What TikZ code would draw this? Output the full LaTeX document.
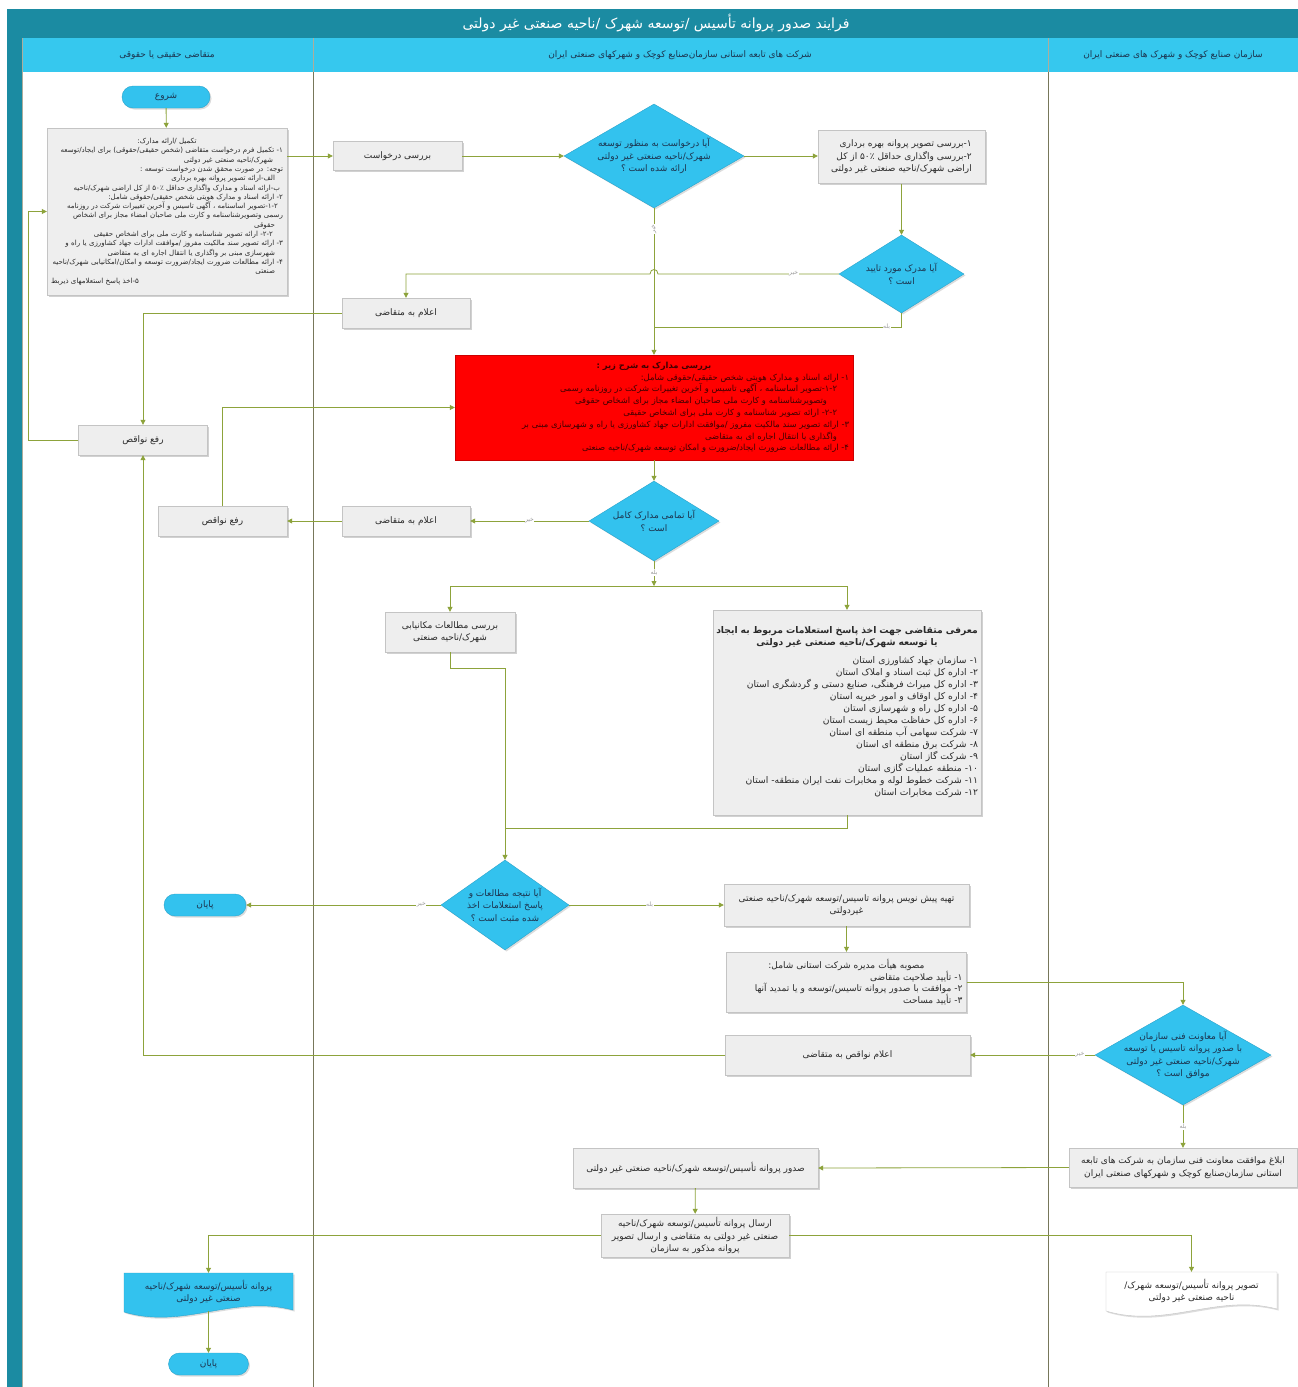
\documentclass[tikz,border=0pt]{standalone}
\usepackage{fontspec}
\setmainfont{DejaVu Sans}
\newfontfamily\fa[Script=Arabic]{DejaVu Sans}
\TeXXeTstate=1
\usetikzlibrary{shapes.geometric,shadows,arrows.meta}
\newcommand{\rtxt}[1]{\mbox{\beginR #1\endR}}
\newcommand{\rtxtc}[1]{\makebox[\hsize]{\beginR #1\endR}}
\newcommand{\rtxtl}[1]{\makebox[\hsize][l]{\beginR #1\endR}}
\definecolor{teal1}{HTML}{1B8BA2}
\definecolor{headc}{HTML}{36C8EE}
\definecolor{cyanf}{HTML}{33C2EE}
\definecolor{cyand}{HTML}{2BA3CB}
\definecolor{boxf}{HTML}{EEEEEE}
\definecolor{boxd}{HTML}{C4C4C4}
\definecolor{lnc}{HTML}{8DA33B}
\definecolor{lanec}{HTML}{77775A}
\definecolor{txtg}{HTML}{2A2A2A}
\definecolor{txtd}{HTML}{1C3550}
\begin{document}
\begin{tikzpicture}[x=1pt,y=-1pt,
 gbox/.style={draw=boxd, fill=boxf, drop shadow={shadow xshift=1.5pt,shadow yshift=-1.5pt,opacity=0.4,fill=black!45}, font=\fa\fontsize{9}{12.5}\selectfont, align=center, text=txtg, inner sep=2pt},
 decis/.style={diamond, draw=cyand, fill=cyanf, inner sep=0pt, drop shadow={shadow xshift=1.5pt,shadow yshift=-1.5pt,opacity=0.3,fill=black!45}},
 dtext/.style={font=\fa\fontsize{9}{12.5}\selectfont, align=center, text=txtd},
 termnode/.style={draw=cyand, fill=cyanf, rounded corners=11pt, minimum height=22pt, font=\fa\fontsize{9}{10}\selectfont, text=txtd, drop shadow={shadow xshift=1.5pt,shadow yshift=-1.5pt,opacity=0.3,fill=black!45}},
 conn/.style={draw=lnc, line width=0.8pt, -{Triangle[length=5pt,width=5pt]}},
 plain/.style={draw=lnc, line width=0.8pt},
 yn/.style={font=\fa\fontsize{6}{6}\selectfont, text=black!40, fill=white, inner sep=0.5pt},
 headtxt/.style={font=\fa\fontsize{9}{10}\selectfont, text=txtd}
]
\useasboundingbox (0,0) rectangle (1298,1387);
\fill[white] (0,0) rectangle (1298,1387);
% title and lanes
\fill[teal1] (7,9) rectangle (1298,38);
\fill[teal1] (7,38) rectangle (22,1387);
\fill[headc] (22,38) rectangle (1298,72);
\draw[white, line width=0.8pt] (22,72) -- (1298,72);
\draw[lanec!60, line width=0.6pt] (313,38) -- (313,72) (1048,38) -- (1048,72);
\draw[lanec, line width=0.7pt] (313,72) -- (313,1387) (1048,72) -- (1048,1387);
\draw[lanec!60, line width=0.5pt] (22,38) -- (22,1387);
\node[font=\fa\fontsize{14}{16}\selectfont, text=white] (title) at (656,23) {\rtxt{فرایند صدور پروانه تأسیس /توسعه شهرک /ناحیه صنعتی غیر دولتی}};
\node[headtxt] (h1) at (167,55) {\rtxt{متقاضی حقیقی یا حقوقی}};
\node[headtxt] (h2) at (680,55) {\rtxt{شرکت های تابعه استانی سازمان‌صنایع کوچک و شهرکهای صنعتی ایران}};
\node[headtxt] (h3) at (1173,55) {\rtxt{سازمان صنایع کوچک و شهرک های صنعتی ایران}};

% lane 1 top
\node[termnode, minimum width=88pt] (start) at (166,97) {\rtxt{شروع}};
\node[gbox, font=\fa\fontsize{7.05}{9.3}\selectfont, text width=232pt, align=right, minimum width=240pt, minimum height=167pt] (docs) at (167,211.5) {%
\rtxtc{تکمیل /ارائه مدارک:}\\
\rtxt{۱- تکمیل فرم درخواست متقاضی (شخص حقیقی/حقوقی) برای ایجاد/توسعه}\\
\rtxt{شهرک/ناحیه صنعتی غیر دولتی}\kern10pt\\
\rtxt{توجه: در صورت محقق شدن درخواست توسعه :}\\
\rtxt{الف-ارائه تصویر پروانه بهره برداری}\kern8pt\\
\rtxt{ب-ارائه اسناد و مدارک واگذاری حداقل ۵۰٪ از کل اراضی شهرک/ناحیه}\kern3pt\\
\rtxt{۲- ارائه اسناد و مدارک هویتی شخص حقیقی/حقوقی شامل:}\\
\rtxt{۱-۲-تصویر اساسنامه ، آگهی تاسیس و آخرین تغییرات شرکت در روزنامه}\kern5pt\\
\rtxt{رسمی وتصویرشناسنامه و کارت ملی صاحبان امضاء مجاز برای اشخاص}\\
\rtxt{حقوقی}\kern8pt\\
\rtxt{۲-۲- ارائه تصویر شناسنامه و کارت ملی  برای اشخاص حقیقی}\kern10pt\\
\rtxt{۳- ارائه تصویر سند مالکیت مفروز /موافقت ادارات جهاد کشاورزی یا راه و}\\
\rtxt{شهرسازی مبنی بر واگذاری یا انتقال اجاره ای به متقاضی}\kern8pt\\
\rtxt{۴- ارائه مطالعات ضرورت ایجاد/ضرورت توسعه و امکان/امکانیابی شهرک/ناحیه}\\
\rtxt{صنعتی}\kern8pt\\
\rtxtl{۵-اخذ پاسخ استعلامهای ذیربط}};

% middle top
\node[gbox, minimum width=129pt, minimum height=29pt] (chk) at (397.5,156) {\rtxt{بررسی درخواست}};
\node[decis, minimum width=180pt, minimum height=104pt] (d1) at (654,156) {};
\node[dtext] (d1t) at (d1) {\rtxt{آیا درخواست به منظور توسعه}\\\rtxt{شهرک/ناحیه صنعتی غیر دولتی}\\\rtxt{ارائه شده است ؟}};
\node[gbox, align=right, minimum width=167pt, minimum height=53pt] (tr) at (901.5,157) {\rtxt{۱-بررسی تصویر پروانه بهره برداری}\\\rtxt{۲-بررسی واگذاری حداقل ۵۰٪ از کل}\\\rtxt{اراضی شهرک/ناحیه صنعتی غیر دولتی}};
\node[decis, minimum width=125pt, minimum height=78pt] (d2) at (901.5,274) {};
\node[dtext] (d2t) at (d2) {\rtxt{آیا مدرک مورد تایید}\\\rtxt{است ؟}};
\node[gbox, minimum width=128pt, minimum height=30pt] (ann1) at (406,313) {\rtxt{اعلام به متقاضی}};
\node[draw=red!80!black, fill=red, font=\fa\fontsize{8.4}{11.8}\selectfont, text=black!75!red, text width=390pt, align=right, minimum width=398pt, minimum height=105pt, inner sep=2pt] (red) at (654,407.5) {%
\rtxtc{\bfseries بررسی مدارک به شرح زیر :}\\
\rtxt{۱- ارائه اسناد و مدارک هویتی شخص حقیقی/حقوقی شامل:}\\
\rtxt{۱-۲-تصویر اساسنامه ، آگهی تاسیس و آخرین تغییرات شرکت در روزنامه رسمی}\kern12pt\\
\rtxt{وتصویرشناسنامه و کارت ملی صاحبان امضاء مجاز برای اشخاص حقوقی}\kern22pt\\
\rtxt{۲-۲- ارائه تصویر شناسنامه و کارت ملی برای اشخاص حقیقی}\kern12pt\\
\rtxt{۳- ارائه تصویر سند مالکیت مفروز /موافقت ادارات جهاد کشاورزی یا راه و شهرسازی مبنی بر}\\
\rtxt{واگذاری یا انتقال اجاره ای به متقاضی}\kern12pt\\
\rtxt{۴- ارائه مطالعات ضرورت ایجاد/ضرورت و امکان توسعه شهرک/ناحیه صنعتی}};
\node[gbox, minimum width=129pt, minimum height=30pt] (rafe1) at (143,440) {\rtxt{رفع نواقص}};
\node[decis, minimum width=130pt, minimum height=80pt] (d3) at (654,521) {};
\node[dtext] (d3t) at (d3) {\rtxt{آیا تمامی مدارک کامل}\\\rtxt{است ؟}};
\node[gbox, minimum width=128pt, minimum height=30pt] (ann2) at (406,521) {\rtxt{اعلام به متقاضی}};
\node[gbox, minimum width=129pt, minimum height=30pt] (rafe2) at (222.5,521) {\rtxt{رفع نواقص}};
\coordinate (sp) at (654,586);
\node[gbox, minimum width=130pt, minimum height=40pt] (study) at (450,632) {\rtxt{بررسی مطالعات مکانیابی}\\\rtxt{شهرک/ناحیه صنعتی}};
\node[gbox, font=\fa\fontsize{9.2}{12}\selectfont, text width=262pt, align=right, minimum width=268pt, minimum height=205pt] (big) at (847,712.5) {%
\rtxtc{\bfseries معرفی متقاضی جهت اخذ پاسخ استعلامات مربوط به ایجاد}\\
\rtxtc{\bfseries یا توسعه شهرک/ناحیه صنعتی غیر دولتی}\\[6pt]
\rtxt{۱- سازمان جهاد کشاورزی استان}\\
\rtxt{۲-  اداره کل ثبت اسناد و املاک استان}\\
\rtxt{۳- اداره کل میراث فرهنگی، صنایع دستی و گردشگری استان}\\
\rtxt{۴- اداره کل اوقاف و امور خیریه استان}\\
\rtxt{۵- اداره کل راه و شهرسازی استان}\\
\rtxt{۶- اداره کل حفاظت محیط زیست استان}\\
\rtxt{۷- شرکت سهامی آب منطقه ای استان}\\
\rtxt{۸- شرکت برق منطقه ای استان}\\
\rtxt{۹- شرکت گاز استان}\\
\rtxt{۱۰- منطقه عملیات گازی استان}\\
\rtxt{۱۱- شرکت خطوط لوله و مخابرات نفت ایران منطقه- استان}\\
\rtxt{۱۲- شرکت مخابرات استان}};
\coordinate (m1) at (505,668);
\coordinate (m2) at (505,828);
\node[decis, minimum width=128pt, minimum height=90pt] (d4) at (505,905) {};
\node[dtext] (d4t) at (d4) {\rtxt{آیا نتیجه مطالعات و}\\\rtxt{پاسخ استعلامات اخذ}\\\rtxt{شده مثبت است ؟}};
\node[termnode, minimum width=82pt] (end1) at (205,905) {\rtxt{پایان}};
\node[gbox, minimum width=245pt, minimum height=42pt] (pre) at (846.5,905) {\rtxt{تهیه پیش نویس پروانه تاسیس/توسعه شهرک/ناحیه صنعتی}\\\rtxt{غیردولتی}};
\node[gbox, font=\fa\fontsize{9}{11.5}\selectfont, text width=232pt, align=right, minimum width=240pt, minimum height=60pt] (board) at (846.5,982) {%
\rtxtc{مصوبه هیأت مدیره شرکت استانی شامل:}\\
\rtxt{۱- تأیید صلاحیت متقاضی}\\
\rtxt{۲- موافقت با صدور پروانه تاسیس/توسعه و یا تمدید آنها}\\
\rtxt{۳- تأیید مساحت}};
\node[decis, minimum width=176pt, minimum height=100pt] (d5) at (1183,1055) {};
\node[dtext] (d5t) at (d5) {\rtxt{آیا  معاونت فنی سازمان}\\\rtxt{با صدور پروانه تاسیس  یا توسعه}\\\rtxt{شهرک/ناحیه صنعتی غیر دولتی}\\\rtxt{موافق است ؟}};
\node[gbox, minimum width=245pt, minimum height=40pt] (ann3) at (847.5,1055) {\rtxt{اعلام نواقص به متقاضی}};
\node[gbox, minimum width=228pt, minimum height=39pt] (notify) at (1183,1167.5) {\rtxt{ابلاغ موافقت معاونت فنی سازمان به شرکت های تابعه}\\\rtxt{استانی سازمان‌صنایع کوچک و شهرکهای صنعتی ایران}};
\node[gbox, minimum width=245pt, minimum height=40pt] (issue) at (695.5,1168) {\rtxt{صدور پروانه تأسیس/توسعه شهرک/ناحیه صنعتی غیر دولتی}};
\node[gbox, minimum width=188pt, minimum height=43pt] (send) at (695,1235.5) {\rtxt{ارسال پروانه تأسیس/توسعه شهرک/ناحیه}\\\rtxt{صنعتی غیر دولتی به متقاضی و ارسال تصویر}\\\rtxt{پروانه مذکور به سازمان}};
% documents
\filldraw[fill=cyanf, draw=cyand, drop shadow={shadow xshift=1.5pt,shadow yshift=-1.5pt,opacity=0.3,fill=black!45}] (124,1273) -- (293,1273) -- (293,1310) .. controls (233,1294) and (184,1330) .. (124,1312) -- cycle;
\node[font=\fa\fontsize{9}{12.5}\selectfont, text=txtd, align=center, minimum width=169pt, minimum height=38pt, inner sep=0pt] (doc1) at (208.5,1292) {\rtxt{پروانه تأسیس/توسعه شهرک/ناحیه}\\\rtxt{صنعتی غیر دولتی}};
\filldraw[fill=white, draw=boxd, drop shadow={shadow xshift=1.5pt,shadow yshift=-1.5pt,opacity=0.3,fill=black!45}] (1106,1272) -- (1277,1272) -- (1277,1309) .. controls (1217,1293) and (1166,1329) .. (1106,1311) -- cycle;
\node[font=\fa\fontsize{9}{12.5}\selectfont, text=txtg, align=center, minimum width=171pt, minimum height=38pt, inner sep=0pt] (doc2) at (1191.5,1291) {\rtxt{تصویر پروانه تأسیس/توسعه شهرک/}\\\rtxt{ناحیه صنعتی غیر دولتی}};
\node[termnode, minimum width=80pt] (end2) at (208.5,1364) {\rtxt{پایان}};

% connectors
\draw[conn] (start) -- (docs);
\draw[conn] (docs.east |- chk.west) -- (chk.west);
\draw[conn] (chk) -- (d1);
\draw[conn] (d1.east) -- (d1.east -| tr.west);
\draw[conn] (tr.south) -- (d2.north);
\draw[conn] (d1.south) -- node[yn, rotate=90, pos=0.14] {\rtxt{خیر}} (red.north);
\draw[conn] (d2.west) -- node[yn, pos=0.25] {\rtxt{خیر}} (658,274) .. controls (658,268) and (650,268) .. (650,274) -- (ann1.north |- d2.west) -- (ann1.north);
\coordinate (j1) at (654,327);
\draw[plain] (d2.south) |- node[yn, pos=0.53] {\rtxt{بله}} (j1);
\draw[conn] (ann1.west) -| (rafe1.north);
\coordinate (lp) at (28,440);
\draw[conn] (rafe1.west) -- (lp) |- (docs.west);
\draw[conn] (ann3.west) -| (rafe1.south);
\draw[conn] (rafe2.north) |- (red.west);
\draw[conn] (red.south) -- (d3.north);
\draw[conn] (d3.west) -- node[yn, pos=0.5] {\rtxt{خیر}} (ann2.east);
\draw[conn] (ann2.west) -- (rafe2.east);
\draw[conn] (d3.south) -- node[yn, pos=0.45] {\rtxt{بله}} (sp);
\draw[conn] (sp) -| (study.north);
\draw[conn] (sp) -| (big.north);
\draw[conn] (study.south) |- (m1) -- (d4.north);
\draw[plain] (big.south) |- (m2);
\draw[conn] (d4.west) -- node[yn, pos=0.1] {\rtxt{خیر}} (end1.east);
\draw[conn] (d4.east) -- node[yn, pos=0.52] {\rtxt{بله}} (pre.west);
\draw[conn] (pre) -- (board);
\draw[conn] (board.east) -| (d5.north);
\draw[conn] (d5.west) -- node[yn, pos=0.12] {\rtxt{خیر}} (ann3.east);
\draw[conn] (d5.south) -- node[yn, pos=0.5] {\rtxt{بله}} (notify.north);
\draw[conn] (notify.west) -- (issue.east);
\draw[conn] (issue) -- (send);
\draw[conn] (send.west) -| (doc1.north);
\draw[conn] (send.east) -| (doc2.north);
\draw[conn] (doc1.south) -- (end2.north);
\end{tikzpicture}
\end{document}
